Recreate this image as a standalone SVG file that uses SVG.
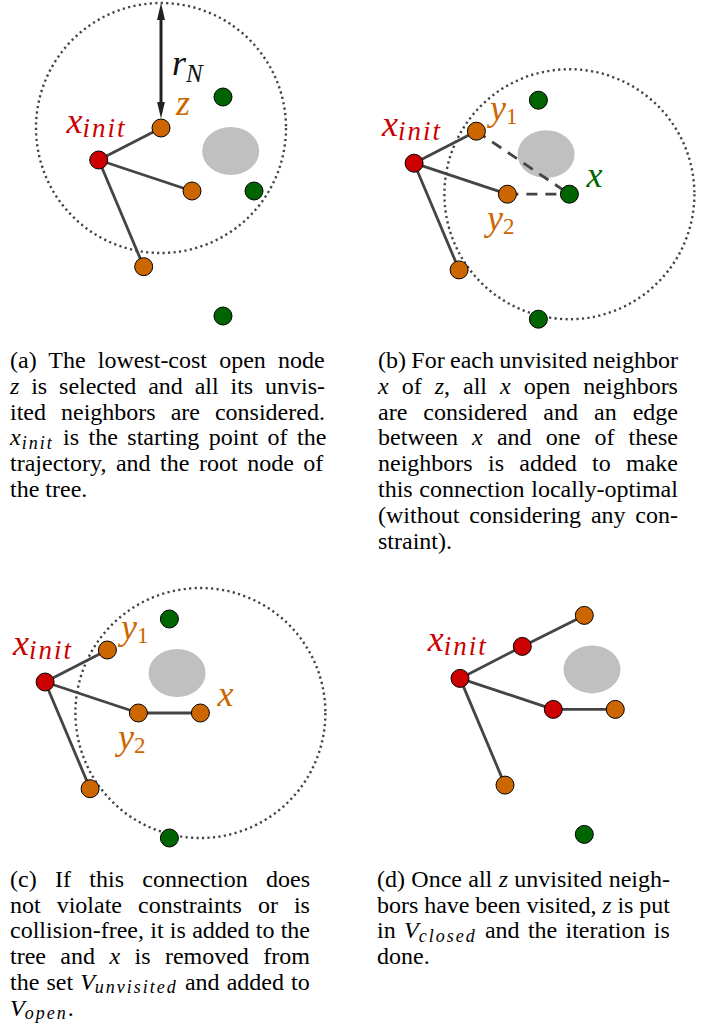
<svg xmlns="http://www.w3.org/2000/svg" width="715" height="1030" viewBox="0 0 715 1030">
<defs>
<style>
.range{fill:none;stroke:#444;stroke-width:2.4;stroke-dasharray:2.2 3.3}
.obst{fill:#c0c0c0}
.edge{stroke:#444;stroke-width:2.8;fill:none}
.cand{stroke:#444;stroke-width:2.8;stroke-dasharray:11 8;fill:none}
.radius{stroke:#222;stroke-width:3;marker-start:url(#tip);marker-end:url(#tip)}
.node{stroke:#000;stroke-width:1}
.red{fill:#cc0000}
.orange{fill:#cc6600}
.green{fill:#006400}
.lbl{font-family:"Liberation Serif","Times New Roman",serif;font-style:italic;font-size:36px}
.lr{fill:#cc0000}
.lo{fill:#cc6600}
.lg{fill:#006400}
.lk{fill:#111}
.sub{font-size:27px;letter-spacing:2px}
.subN{font-size:25px}
.dig{font-style:normal;font-size:23px}
.cap{font-family:"Liberation Serif","Times New Roman",serif;font-size:24px;fill:#000}
.m{font-style:italic}
.s{font-style:italic;font-size:18px;letter-spacing:2px}
</style>
<marker id="tip" markerUnits="userSpaceOnUse" viewBox="0 0 17 8" markerWidth="17" markerHeight="8" refX="9" refY="4" orient="auto-start-reverse">
<path d="M0,0 L17,4 L0,8 Z" fill="#222"/>
</marker>
</defs>
<rect width="715" height="1030" fill="#fff"/>

<!-- Panel (a) -->
<g id="panel-a">
<circle class="range" cx="161" cy="128" r="125"/>
<ellipse class="obst" cx="230.7" cy="151" rx="28.5" ry="24"/>
<g id="a-connectors">
<line class="edge" x1="98.7" y1="160" x2="161" y2="128"/>
<line class="edge" x1="98.7" y1="160" x2="192" y2="191"/>
<line class="edge" x1="98.7" y1="160" x2="143.7" y2="266.7"/>
<line class="radius" x1="161" y1="11" x2="161" y2="110.5"/>
</g>
<g id="a-xinit"><circle class="node red" cx="98.7" cy="160" r="9"/><text class="lbl lr" x="66.5" y="132.5">x<tspan class="sub" dy="4.5">init</tspan></text></g>
<g id="a-z"><circle class="node orange" cx="161" cy="128" r="9"/><text class="lbl lo" x="176" y="115">z</text></g>
<g id="a-p2"><circle class="node orange" cx="192" cy="191" r="9"/></g>
<g id="a-p3"><circle class="node orange" cx="143.7" cy="266.7" r="9"/></g>
<g id="a-g1"><circle class="node green" cx="223" cy="97" r="9"/></g>
<g id="a-g2"><circle class="node green" cx="254" cy="191" r="9"/></g>
<g id="a-g3"><circle class="node green" cx="223" cy="316" r="9"/></g>
<text class="lbl lk" x="172" y="75">r<tspan class="subN" dy="6.5">N</tspan></text>
</g>

<!-- Panel (b) -->
<g id="panel-b" transform="translate(315.4,3.2)">
<circle class="range" cx="254" cy="191" r="125"/>
<ellipse class="obst" cx="230.7" cy="151" rx="28.5" ry="24"/>
<g id="b-connectors">
<line class="edge" x1="98.7" y1="160" x2="161" y2="128"/>
<line class="edge" x1="98.7" y1="160" x2="192" y2="191"/>
<line class="edge" x1="98.7" y1="160" x2="143.7" y2="266.7"/>
<line class="cand" x1="161" y1="128" x2="254" y2="191"/>
<line class="cand" x1="192" y1="191" x2="254" y2="191"/>
</g>
<g id="b-xinit"><circle class="node red" cx="98.7" cy="160" r="9"/><text class="lbl lr" x="66.5" y="132.5">x<tspan class="sub" dy="4.5">init</tspan></text></g>
<g id="b-y1"><circle class="node orange" cx="161" cy="128" r="9"/><text class="lbl lo" x="174.5" y="117">y<tspan class="dig" dy="3.5">1</tspan></text></g>
<g id="b-y2"><circle class="node orange" cx="192" cy="191" r="9"/><text class="lbl lo" x="171.5" y="227">y<tspan class="dig" dy="3.5">2</tspan></text></g>
<g id="b-p3"><circle class="node orange" cx="143.7" cy="266.7" r="9"/></g>
<g id="b-g1"><circle class="node green" cx="223" cy="97" r="9"/></g>
<g id="b-x"><circle class="node green" cx="254" cy="191" r="9"/><text class="lbl lg" x="271" y="183.5">x</text></g>
<g id="b-g3"><circle class="node green" cx="223" cy="316" r="9"/></g>
</g>

<!-- Panel (c) -->
<g id="panel-c" transform="translate(-53.6,522)">
<circle class="range" cx="254" cy="191" r="125"/>
<ellipse class="obst" cx="230.7" cy="151" rx="28.5" ry="24"/>
<g id="c-connectors">
<line class="edge" x1="98.7" y1="160" x2="161" y2="128"/>
<line class="edge" x1="98.7" y1="160" x2="192" y2="191"/>
<line class="edge" x1="98.7" y1="160" x2="143.7" y2="266.7"/>
<line class="edge" x1="192" y1="191" x2="254" y2="191"/>
</g>
<g id="c-xinit"><circle class="node red" cx="98.7" cy="160" r="9"/><text class="lbl lr" x="66.5" y="132.5">x<tspan class="sub" dy="4.5">init</tspan></text></g>
<g id="c-y1"><circle class="node orange" cx="161" cy="128" r="9"/><text class="lbl lo" x="174.5" y="117">y<tspan class="dig" dy="3.5">1</tspan></text></g>
<g id="c-y2"><circle class="node orange" cx="192" cy="191" r="9"/><text class="lbl lo" x="171.5" y="227">y<tspan class="dig" dy="3.5">2</tspan></text></g>
<g id="c-p3"><circle class="node orange" cx="143.7" cy="266.7" r="9"/></g>
<g id="c-g1"><circle class="node green" cx="223" cy="97" r="9"/></g>
<g id="c-x"><circle class="node orange" cx="254" cy="191" r="9"/><text class="lbl lo" x="271" y="183.5">x</text></g>
<g id="c-g3"><circle class="node green" cx="223" cy="316" r="9"/></g>
</g>

<!-- Panel (d) -->
<g id="panel-d" transform="translate(361.3,518.4)">
<ellipse class="obst" cx="230.7" cy="151" rx="28.5" ry="24"/>
<g id="d-connectors">
<line class="edge" x1="98.7" y1="160" x2="161" y2="128"/>
<line class="edge" x1="161" y1="128" x2="223" y2="97"/>
<line class="edge" x1="98.7" y1="160" x2="192" y2="191"/>
<line class="edge" x1="192" y1="191" x2="254" y2="191"/>
<line class="edge" x1="98.7" y1="160" x2="143.7" y2="266.7"/>
</g>
<g id="d-xinit"><circle class="node red" cx="98.7" cy="160" r="9"/><text class="lbl lr" x="66.5" y="132.5">x<tspan class="sub" dy="4.5">init</tspan></text></g>
<g id="d-y1"><circle class="node red" cx="161" cy="128" r="9"/></g>
<g id="d-y2"><circle class="node red" cx="192" cy="191" r="9"/></g>
<g id="d-n1"><circle class="node orange" cx="223" cy="97" r="9"/></g>
<g id="d-x"><circle class="node orange" cx="254" cy="191" r="9"/></g>
<g id="d-p3"><circle class="node orange" cx="143.7" cy="266.7" r="9"/></g>
<g id="d-g3"><circle class="node green" cx="223" cy="316" r="9"/></g>
</g>

<!-- Captions -->
<g id="caption-a" class="cap">
<text x="10" y="368" word-spacing="6.1">(a) The lowest-cost open node</text>
<text x="10" y="393.8" word-spacing="5.85"><tspan class="m">z</tspan> is selected and all its unvis-</text>
<text x="10" y="419.6" word-spacing="9">ited neighbors are considered.</text>
<text x="10" y="445.4" word-spacing="3.45"><tspan class="m">x</tspan><tspan class="s" dx="1" dy="3.5">init</tspan><tspan dy="-3.5"> is the starting point of the</tspan></text>
<text x="10" y="471.2" word-spacing="3.54">trajectory, and the root node of</text>
<text x="10" y="497">the tree.</text>
</g>
<g id="caption-b" class="cap">
<text x="378" y="368" word-spacing="-0.65">(b) For each unvisited neighbor</text>
<text x="378" y="393.8" word-spacing="7"><tspan class="m">x</tspan> of <tspan class="m">z</tspan>, all <tspan class="m">x</tspan> open neighbors</text>
<text x="378" y="419.6" word-spacing="10.03">are considered and an edge</text>
<text x="378" y="445.4" word-spacing="8.14">between <tspan class="m">x</tspan> and one of these</text>
<text x="378" y="471.2" word-spacing="9.35">neighbors is added to make</text>
<text x="378" y="497" word-spacing="0.65">this connection locally-optimal</text>
<text x="378" y="522.8" word-spacing="3.8">(without considering any con-</text>
<text x="378" y="548.6">straint).</text>
</g>
<g id="caption-c" class="cap">
<text x="10" y="886.7" word-spacing="12.35">(c) If this connection does</text>
<text x="10" y="912.5" word-spacing="10">not violate constraints or is</text>
<text x="10" y="938.3" word-spacing="0.28">collision-free, it is added to the</text>
<text x="10" y="964.1" word-spacing="8.4">tree and <tspan class="m">x</tspan> is removed from</text>
<text x="10" y="989.9" word-spacing="1.1">the set <tspan class="m">V</tspan><tspan class="s" dy="3.5">unvisited</tspan><tspan dy="-3.5"> and added to</tspan></text>
<text x="10" y="1015.7"><tspan class="m">V</tspan><tspan class="s" dy="3.5">open</tspan><tspan dy="-3.5">.</tspan></text>
</g>
<g id="caption-d" class="cap">
<text x="377" y="886.7" word-spacing="0.34">(d) Once all <tspan class="m">z</tspan> unvisited neigh-</text>
<text x="377" y="912.5" word-spacing="-0.17">bors have been visited, <tspan class="m">z</tspan> is put</text>
<text x="377" y="938.3" word-spacing="2.3">in <tspan class="m">V</tspan><tspan class="s" dy="3.5">closed</tspan><tspan dy="-3.5"> and the iteration is</tspan></text>
<text x="377" y="964.1">done.</text>
</g>
</svg>
